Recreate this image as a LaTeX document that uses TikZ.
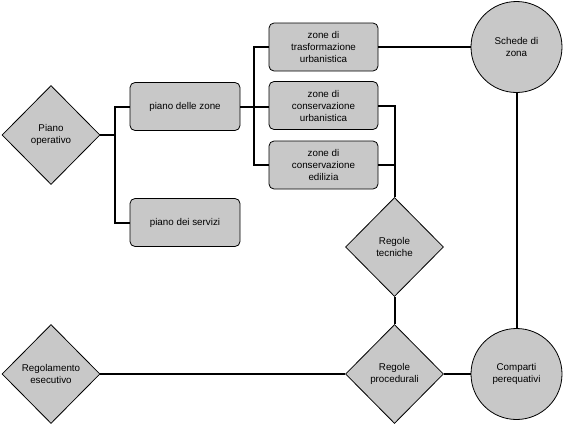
\documentclass[tikz,border=0pt]{standalone}
\usepackage{fontspec}
\setmainfont{Liberation Sans}
\usetikzlibrary{shapes.geometric}
\definecolor{boxgray}{RGB}{200,200,200}
\begin{document}
\begin{tikzpicture}[x=1pt,y=-1pt,
 every node/.style={font=\fontsize{9.8}{12}\selectfont, align=center, inner sep=0pt},
 rbox/.style={draw, fill=boxgray, rounded corners=5pt, minimum width=110pt, minimum height=48pt, line width=0.8pt},
 dia/.style={draw, fill=boxgray, diamond, minimum width=98pt, minimum height=99pt, line width=0.8pt},
 circ/.style={draw, fill=boxgray, circle, minimum size=91pt, line width=0.8pt},
 conn/.style={line width=2pt}]
\useasboundingbox (0,0) rectangle (563,424);
\node[dia] (po) at (51,135) {Piano\\operativo};
\node[rbox] (pz) at (185,106.5) {piano delle zone};
\node[rbox] (ps) at (185,222.5) {piano dei servizi};
\node[rbox, minimum width=109pt] (zt) at (323.5,47) {zone di\\trasformazione\\urbanistica};
\node[rbox, minimum width=109pt] (zcu) at (323.5,105.5) {zone di\\conservazione\\urbanistica};
\node[rbox, minimum width=109pt] (zce) at (323.5,165) {zone di\\conservazione\\edilizia};
\node[circ] (sz) at (516.5,47) {Schede di\\zona};
\node[dia] (rt) at (394.5,247) {Regole\\tecniche};
\node[dia] (rp) at (394.5,374) {Regole\\procedurali};
\node[circ] (cp) at (516.5,374) {Comparti\\perequativi};
\node[dia] (re) at (51,374) {Regolamento\\esecutivo};
\draw[conn] (pz.west) -- ++(-15,0) coordinate (b1) |- (ps.west);
\draw[conn] (po.east) -- (po.east -| b1) -- (b1);
\draw[conn] (zt.west) -- ++(-15,0) coordinate (b2) |- (zce.west);
\draw[conn] (pz.east) -- (pz.east -| zcu.west);
\draw[conn] (zcu.east) -| (rt.north);
\draw[conn] (zce.east) -- (zce.east -| rt.north);
\draw[conn] (zt.east) -- (sz.west);
\draw[conn] (sz.south) -- (cp.north);
\draw[conn] (rt.south) -- (rp.north);
\draw[conn] (re.east) -- (rp.west);
\draw[conn] (rp.east) -- (cp.west);
\end{tikzpicture}
\end{document}
